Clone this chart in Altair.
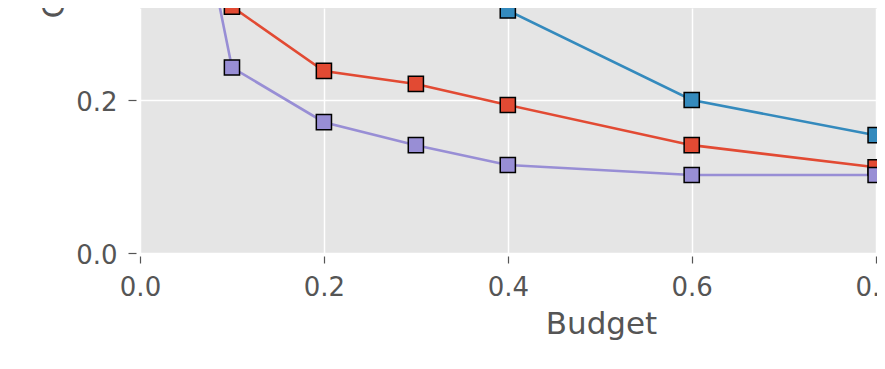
import altair as alt
import pandas as pd

series = ["S1", "S2", "S3"]
colors = ["#E24A33", "#348ABD", "#988ED5"]

budget_s1 = [0.05, 0.1, 0.2, 0.3, 0.4, 0.6, 0.8]
cost_s1 = [0.45, 0.322, 0.238, 0.221, 0.1935, 0.141, 0.112]

budget_s2 = [0.3, 0.4, 0.6, 0.8]
cost_s2 = [0.43, 0.317, 0.200, 0.154]

budget_s3 = [0.05, 0.1, 0.2, 0.3, 0.4, 0.6, 0.8]
cost_s3 = [0.54, 0.2425, 0.171, 0.141, 0.115, 0.102, 0.102]

x_ticks = [0.0, 0.2, 0.4, 0.6, 0.8]
y_ticks = [0.0, 0.2]

rows = []
for name, bx, cy in zip(series, [budget_s1, budget_s2, budget_s3], [cost_s1, cost_s2, cost_s3]):
    for b, c in zip(bx, cy):
        rows.append({"series": name, "budget": b, "cost": c})
df = pd.DataFrame(rows)

FONT = "DejaVu Sans"
GREY = "#555555"

x = alt.X(
    "budget:Q",
    scale=alt.Scale(domain=[0, 0.8015], nice=False, zero=False),
    axis=alt.Axis(
        values=x_ticks, format=".1f", title="Budget", labelFlush=False,
        offset=3, tickSize=7, labelPadding=11, domain=False,
        titleX=461, titleY=77, titleAlign="center", titleBaseline="alphabetic",
    ),
)
y = alt.Y(
    "cost:Q",
    scale=alt.Scale(domain=[0, 0.3203], nice=False, zero=False),
    axis=alt.Axis(
        values=y_ticks, format=".1f", title="Cost",
        offset=4, tickSize=8, labelPadding=11, labelOffset=2, domain=False,
        titleAngle=270, titleAlign="left", titleBaseline="alphabetic",
        titleX=-73, titleY=10,
    ),
)
cscale = alt.Scale(domain=series, range=colors)

lines = alt.Chart(df).mark_line(clip=True, strokeWidth=2.6).encode(
    x=x, y=y,
    color=alt.Color("series:N", scale=cscale, legend=None),
    order="budget:Q",
)
points = alt.Chart(df).mark_point(
    shape="square", filled=True, size=230, stroke="black", strokeWidth=1.5,
    opacity=1, clip=False,
).encode(
    x=x, y=y,
    fill=alt.Fill("series:N", scale=cscale, legend=None),
)

chart = (
    alt.layer(lines, points)
    .properties(
        width=737, height=245,
        autosize=alt.AutoSizeParams(type="none"),
        padding={"left": 132, "top": 0, "right": 0, "bottom": 92},
    )
    .configure_view(fill="#E5E5E5", stroke=None)
    .configure_axis(
        labelFont=FONT, titleFont=FONT, labelFontSize=26, titleFontSize=31,
        labelColor=GREY, titleColor=GREY, tickColor=GREY, tickWidth=1.2,
        titleFontWeight="normal", gridColor="white", gridWidth=1.5, gridOpacity=1,
    )
)

chart.save("out.html", embed_options={"renderer": "svg", "actions": False})
